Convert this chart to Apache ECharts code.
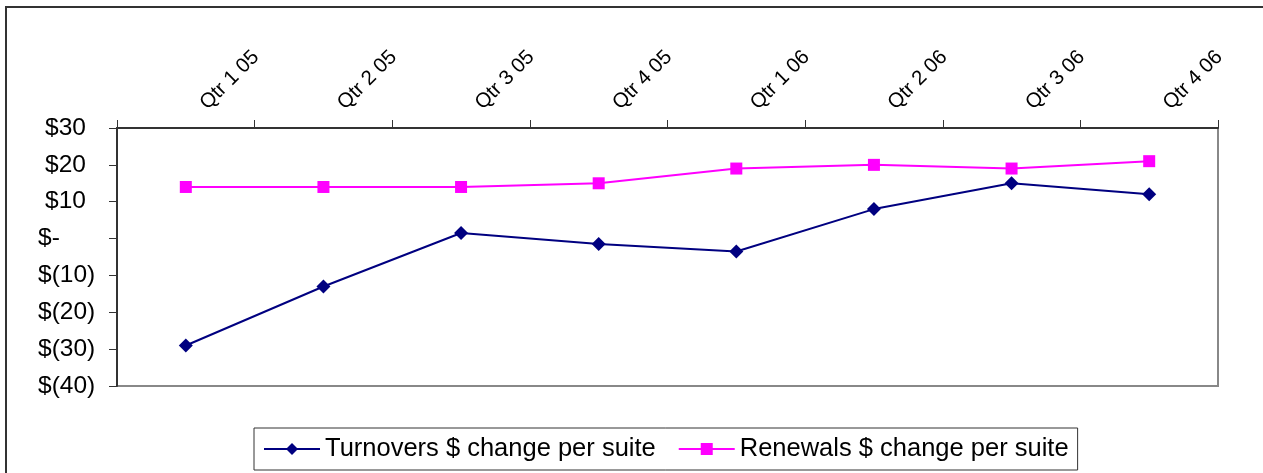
<!DOCTYPE html>
<html>
<head>
<meta charset="utf-8">
<script src="https://cdn.jsdelivr.net/npm/echarts@6/dist/echarts.min.js"></script>
<style>
  html, body { margin: 0; padding: 0; background: #fff; }
  #chart { width: 1263px; height: 473px; }
</style>
</head>
<body>
<div id="chart"></div>
<script>
// Quarterly rent change per suite
const quarters = ['Qtr 1 05', 'Qtr 2 05', 'Qtr 3 05', 'Qtr 4 05', 'Qtr 1 06', 'Qtr 2 06', 'Qtr 3 06', 'Qtr 4 06'];
const turnovers = [-29, -13, 1.5, -1.5, -3.5, 8, 15, 12];
const renewals = [14, 14, 14, 15, 19, 20, 19, 21];
const seriesNames = ['Turnovers $ change per suite', 'Renewals $ change per suite'];

const FONT = '"Liberation Sans", Arial, sans-serif';

// Accounting-style dollar labels: $30, $-, $(10)
function dollar(v) {
  if (v > 0) return '{pos|$' + v + '}';
  if (v === 0) return '{neg|$-}';
  return '{neg|$(' + Math.abs(v) + ')}';
}

const chart = echarts.init(document.getElementById('chart'));
chart.setOption({
  animation: false,
  backgroundColor: '#ffffff',
  textStyle: { fontFamily: FONT, color: '#000' },
  graphic: [{
    type: 'rect',
    shape: { x: 6, y: 7, width: 1400, height: 600 },
    style: { fill: 'none', stroke: '#333', lineWidth: 2 },
    silent: true
  }],
  grid: {
    left: 117, right: 45, top: 128, bottom: 87,
    show: true, borderColor: '#888', borderWidth: 2, backgroundColor: 'transparent'
  },
  legend: {
    bottom: 3, left: 254,
    padding: [8, 9, 8, 9],
    borderColor: '#333', borderWidth: 1,
    itemWidth: 56, itemHeight: 15, itemGap: 22,
    textStyle: { fontFamily: FONT, fontSize: 25.5, color: '#000' },
    data: seriesNames
  },
  xAxis: {
    type: 'category',
    position: 'top',
    data: quarters,
    boundaryGap: true,
    axisLine: { onZero: false, lineStyle: { color: '#333', width: 2 } },
    axisTick: { show: true, inside: false, length: 8, lineStyle: { color: '#333', width: 1 } },
    axisLabel: {
      rotate: -45, fontSize: 20.5, fontFamily: FONT, color: '#000',
      margin: 4, padding: [0, 0, 0, 25]
    },
    splitLine: { show: false }
  },
  yAxis: {
    type: 'value',
    min: -40, max: 30, interval: 10,
    axisLine: { show: true, lineStyle: { color: '#333', width: 2 } },
    axisTick: { show: true, length: 8, lineStyle: { color: '#333', width: 1 } },
    splitLine: { show: false },
    axisLabel: {
      margin: 79, align: 'left', formatter: dollar,
      rich: {
        pos: { fontSize: 24.5, fontFamily: FONT, color: '#000', padding: [0, 0, 0, 7] },
        neg: { fontSize: 24.5, fontFamily: FONT, color: '#000' }
      }
    }
  },
  series: [
    {
      name: seriesNames[0], type: 'line', data: turnovers,
      symbol: 'diamond', symbolSize: 14,
      lineStyle: { color: '#000080', width: 2 },
      itemStyle: { color: '#000080' }
    },
    {
      name: seriesNames[1], type: 'line', data: renewals,
      symbol: 'rect', symbolSize: 12,
      lineStyle: { color: '#ff00ff', width: 2 },
      itemStyle: { color: '#ff00ff' }
    }
  ]
});
</script>
</body>
</html>
